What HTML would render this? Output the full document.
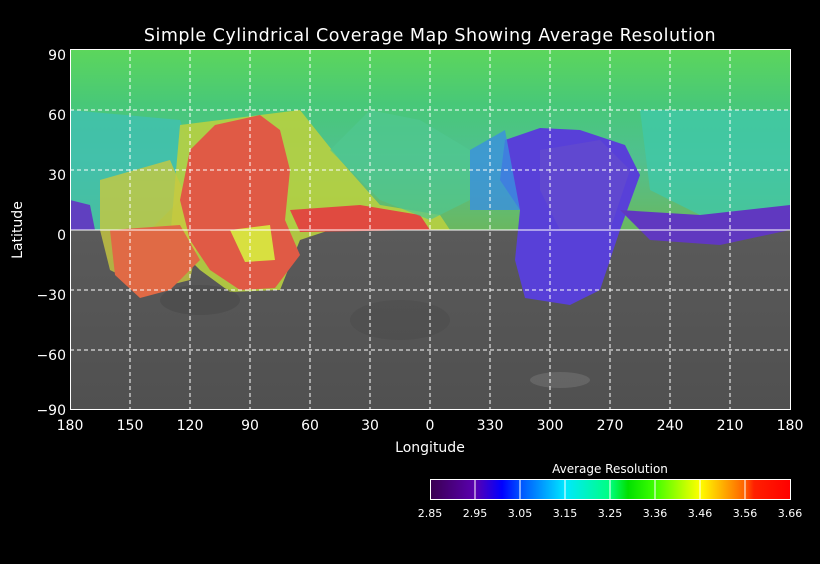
<!DOCTYPE html>
<html><head><meta charset="utf-8"><style>
body{margin:0;background:#000;width:820px;height:560px;overflow:hidden;font-family:"DejaVu Sans","Liberation Sans",sans-serif;}
svg text{fill:#fff;font-family:"DejaVu Sans","Liberation Sans",sans-serif;}
</style></head><body>
<svg width="820" height="560" viewBox="0 0 820 560">
<defs>
<linearGradient id="cb" x1="0" x2="1">
<stop offset="0" stop-color="#3a0050"/><stop offset="0.125" stop-color="#5a00b0"/>
<stop offset="0.2" stop-color="#0000ff"/><stop offset="0.25" stop-color="#0050ff"/>
<stop offset="0.375" stop-color="#00e8ff"/><stop offset="0.5" stop-color="#00ff80"/>
<stop offset="0.55" stop-color="#00e000"/><stop offset="0.625" stop-color="#40ff00"/>
<stop offset="0.75" stop-color="#ffff00"/><stop offset="0.875" stop-color="#ff6000"/>
<stop offset="0.9" stop-color="#ff2000"/><stop offset="1" stop-color="#ff0000"/>
</linearGradient>
<linearGradient id="gr" x1="0" y1="0" x2="0" y2="1">
<stop offset="0" stop-color="#6e6e6e"/><stop offset="0.5" stop-color="#5a5a5a"/><stop offset="1" stop-color="#505050"/>
</linearGradient>
<linearGradient id="north" x1="0" y1="0" x2="0" y2="1">
<stop offset="0" stop-color="#5cd65c"/><stop offset="0.3" stop-color="#48c878"/><stop offset="0.6" stop-color="#50c090"/><stop offset="1" stop-color="#6ab860"/>
</linearGradient>
</defs>
<text x="430" y="41" font-size="17.5" text-anchor="middle" letter-spacing="0.5">Simple Cylindrical Coverage Map Showing Average Resolution</text>
<rect x="70" y="50" width="720" height="360" fill="url(#gr)"/>
<rect x="70" y="50" width="720" height="180" fill="url(#north)"/>
<polygon points="70,110 180,120 200,180 150,230 70,230" fill="#40c0b0" opacity="0.8"/>
<polygon points="640,110 790,110 790,210 700,215 650,190" fill="#40c8a8" opacity="0.8"/>
<polygon points="70,200 90,205 95,230 70,230" fill="#6040c0"/>
<polygon points="180,125 300,110 340,160 380,205 440,215 450,230 330,230 300,240 280,290 230,292 200,270 170,240" fill="#b8d040" opacity="0.9"/>
<polygon points="100,180 170,160 200,230 190,280 150,290 110,270 100,230" fill="#c8c840" opacity="0.8"/>
<polygon points="190,150 215,125 260,115 280,130 290,170 285,220 300,255 275,288 240,290 210,270 190,240 180,200" fill="#e05a45"/>
<polygon points="110,230 180,225 200,260 170,290 140,298 115,275" fill="#e06a45"/>
<polygon points="290,210 360,205 420,215 430,230 300,232" fill="#e04a40"/>
<polygon points="230,230 270,225 275,260 245,262" fill="#d8e040"/>
<polygon points="505,140 540,128 580,130 625,145 640,175 620,230 600,290 570,305 525,298 515,260 520,210 500,180" fill="#5840d8"/>
<polygon points="540,150 600,140 630,170 610,230 560,230 540,190" fill="#6048d0"/>
<polygon points="620,210 700,215 790,205 790,230 720,245 650,240" fill="#6038c0"/>
<polygon points="470,150 505,130 520,210 470,210" fill="#3a90e0" opacity="0.8"/>
<polygon points="370,110 420,120 470,150 470,200 430,220 380,200 330,150" fill="#50c890" opacity="0.7"/>
<ellipse cx="560" cy="380" rx="30" ry="8" fill="#777" opacity="0.5"/>
<ellipse cx="200" cy="300" rx="40" ry="15" fill="#444" opacity="0.4"/>
<ellipse cx="400" cy="320" rx="50" ry="20" fill="#444" opacity="0.3"/>
<g stroke="#fff" stroke-width="1" stroke-dasharray="4,3" fill="none">
<line x1="130" y1="50" x2="130" y2="410"/><line x1="190" y1="50" x2="190" y2="410"/>
<line x1="250" y1="50" x2="250" y2="410"/><line x1="310" y1="50" x2="310" y2="410"/>
<line x1="370" y1="50" x2="370" y2="410"/><line x1="430" y1="50" x2="430" y2="410"/>
<line x1="490" y1="50" x2="490" y2="410"/><line x1="550" y1="50" x2="550" y2="410"/>
<line x1="610" y1="50" x2="610" y2="410"/><line x1="670" y1="50" x2="670" y2="410"/>
<line x1="730" y1="50" x2="730" y2="410"/>
<line x1="70" y1="110" x2="790" y2="110"/><line x1="70" y1="170" x2="790" y2="170"/>
<line x1="70" y1="290" x2="790" y2="290"/><line x1="70" y1="350" x2="790" y2="350"/>
</g>
<line x1="70" y1="230" x2="790" y2="230" stroke="#fff"/>
<rect x="70.5" y="49.5" width="720" height="360" fill="none" stroke="#fff"/>
<g font-size="14" text-anchor="end">
<text x="66" y="60">90</text><text x="66" y="120">60</text><text x="66" y="180">30</text>
<text x="66" y="240">0</text><text x="66" y="300">−30</text><text x="66" y="360">−60</text><text x="66" y="415">−90</text>
</g>
<text x="22" y="230" font-size="14" text-anchor="middle" transform="rotate(-90 22 230)">Latitude</text>
<g font-size="14" text-anchor="middle">
<text x="70" y="430">180</text><text x="130" y="430">150</text><text x="190" y="430">120</text>
<text x="250" y="430">90</text><text x="310" y="430">60</text><text x="370" y="430">30</text>
<text x="430" y="430">0</text><text x="490" y="430">330</text><text x="550" y="430">300</text>
<text x="610" y="430">270</text><text x="670" y="430">240</text><text x="730" y="430">210</text>
<text x="790" y="430">180</text>
</g>
<text x="430" y="452" font-size="14" text-anchor="middle">Longitude</text>
<text x="610" y="473" font-size="12" text-anchor="middle">Average Resolution</text>
<rect x="430" y="479" width="360" height="20" fill="url(#cb)"/>
<g stroke="#fff" stroke-width="1">
<line x1="475" y1="479" x2="475" y2="499"/><line x1="520" y1="479" x2="520" y2="499"/>
<line x1="565" y1="479" x2="565" y2="499"/><line x1="610" y1="479" x2="610" y2="499"/>
<line x1="655" y1="479" x2="655" y2="499"/><line x1="700" y1="479" x2="700" y2="499"/>
<line x1="745" y1="479" x2="745" y2="499"/>
</g>
<rect x="430.5" y="479.5" width="360" height="20" fill="none" stroke="#fff"/>
<g font-size="11" text-anchor="middle">
<text x="430" y="517">2.85</text><text x="475" y="517">2.95</text><text x="520" y="517">3.05</text>
<text x="565" y="517">3.15</text><text x="610" y="517">3.25</text><text x="655" y="517">3.36</text>
<text x="700" y="517">3.46</text><text x="745" y="517">3.56</text><text x="790" y="517">3.66</text>
</g>
</svg>
</body></html>
